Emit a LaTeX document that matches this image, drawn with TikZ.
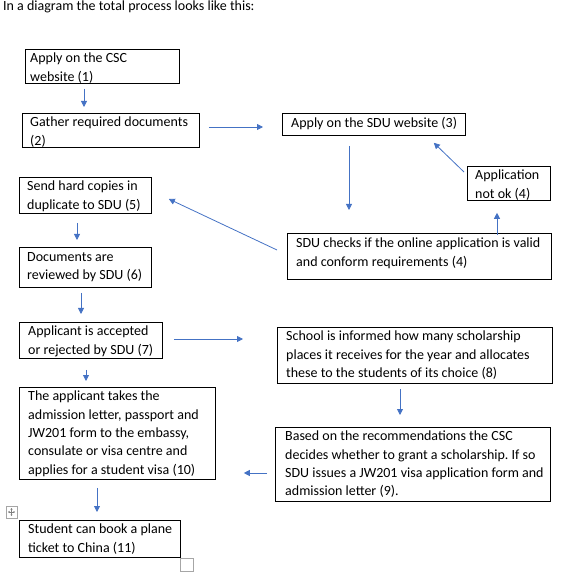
\documentclass[tikz,border=0pt]{standalone}
\usepackage{fontspec}
\setmainfont{Carlito}
\usetikzlibrary{arrows.meta, positioning, calc}
\frenchspacing

\definecolor{wordblue}{HTML}{4472C4}
\definecolor{handlegray}{HTML}{A6A6A6}

\tikzset{
  frame/.style={draw, line width=0.8pt, rectangle, anchor=north west, inner sep=0pt},
  words/.style={anchor=north west, align=left, inner sep=0pt, font=\fontsize{14}{18.3}\selectfont},
  flow/.style={draw=wordblue, line width=0.8pt, -{Triangle[length=6pt,width=6pt]}},
}

\begin{document}
\begin{tikzpicture}[x=1pt, y=-1pt]
      \useasboundingbox (0,0) rectangle (576,572);
      \node[words] (title) at (3,1) {In a diagram the total process looks like this:};
      % left column
      \node[frame, minimum width=154pt, minimum height=34pt] (csc) at (25,49) {};
      \node[words] (csc-t) at ($(csc.north west)+(5,4)$) {Apply on the CSC\\website (1)};
      \node[frame, minimum width=177pt, minimum height=34pt] (gather) at (22,113) {};
      \node[words] (gather-t) at ($(gather.north west)+(8,4)$) {Gather required documents\\(2)};
      \node[frame, minimum width=132pt, minimum height=36pt] (hardcopy) at (19,177) {};
      \node[words] (hardcopy-t) at ($(hardcopy.north west)+(8,4)$) {Send hard copies in\\duplicate to SDU (5)};
      \node[frame, minimum width=132pt, minimum height=40pt] (review) at (19,247) {};
      \node[words] (review-t) at ($(review.north west)+(8,5)$) {Documents are\\reviewed by SDU (6)};
      \node[frame, minimum width=143pt, minimum height=36pt] (accept) at (19,322) {};
      \node[words] (accept-t) at ($(accept.north west)+(9,4)$) {Applicant is accepted\\or rejected by SDU (7)};
      \node[frame, minimum width=196pt, minimum height=92pt] (visa) at (19,387) {};
      \node[words] (visa-t) at ($(visa.north west)+(9,4)$) {The applicant takes the\\admission letter, passport and\\JW201 form to the embassy,\\consulate or visa centre and\\applies for a student visa (10)};
      \node[frame, minimum width=161pt, minimum height=37pt] (ticket) at (19,520) {};
      \node[words] (ticket-t) at ($(ticket.north west)+(9,4)$) {Student can book a plane\\ticket to China (11)};
      % right column
      \node[frame, minimum width=183pt, minimum height=22pt] (sdu) at (282,113) {};
      \node[words] (sdu-t) at ($(sdu.north west)+(9,4)$) {Apply on the SDU website (3)};
      \node[frame, minimum width=83pt, minimum height=34pt] (notok) at (467,166) {};
      \node[words] (notok-t) at ($(notok.north west)+(8,4)$) {Application\\not ok (4)};
      \node[frame, minimum width=264pt, minimum height=46pt] (check) at (287,233) {};
      \node[words] (check-t) at ($(check.north west)+(9,5)$) {SDU checks if the online application is valid\\and conform requirements (4)};
      \node[frame, minimum width=275pt, minimum height=56pt] (school) at (277,327) {};
      \node[words] (school-t) at ($(school.north west)+(9,4)$) {School is informed how many scholarship\\places it receives for the year and allocates\\these to the students of its choice (8)};
      \node[frame, minimum width=275pt, minimum height=74pt] (grant) at (275,427) {};
      \node[words] (grant-t) at ($(grant.north west)+(10,4)$) {Based on the recommendations the CSC\\decides whether to grant a scholarship. If so\\SDU issues a JW201 visa application form and\\admission letter (9).};
      % arrows
      \draw[flow] ($(csc.south west)+(59,5)$) -- ($(gather.north west)+(62,-6)$);
      \draw[flow] ($(gather.north east)+(9,14)$) -- ($(sdu.north west)+(-19,14)$);
      \draw[flow] ($(sdu.south west)+(67,10)$) -- ($(check.north west)+(62,-23)$);
      \draw[flow] ($(check.north west)+(210,2)$) -- ($(notok.south west)+(30,12)$);
      \draw[flow] ($(notok.north west)+(-3,6)$) -- ($(sdu.south east)+(-32,7)$);
      \draw[flow] ($(check.north west)+(-10,17)$) -- ($(hardcopy.north east)+(17,22)$);
      \draw[flow] ($(hardcopy.south west)+(58,9)$) -- ($(review.north west)+(58,-7)$);
      \draw[flow] ($(review.south west)+(62,5)$) -- ($(accept.north west)+(62,-8)$);
      \draw[flow] ($(accept.north east)+(11,17)$) -- ($(school.north west)+(-34,12)$);
      \draw[flow] ($(school.south west)+(123,5)$) -- ($(grant.north west)+(125,-12)$);
      \draw[flow] ($(grant.north west)+(-8,46)$) -- ($(visa.north east)+(28,86)$);
      \draw[flow] ($(accept.south west)+(67,11)$) -- ($(visa.north west)+(67,-6)$);
      \draw[flow] ($(visa.south west)+(78,8)$) -- ($(ticket.north west)+(78,-8)$);
      % table handles
      \draw[handlegray, fill=white, line width=0.6pt] (6,506) rectangle (17,518);
      \draw[gray, line width=0.4pt, {Triangle[length=1.5pt,width=2pt]}-{Triangle[length=1.5pt,width=2pt]}] (8,512) -- (15,512);
      \draw[gray, line width=0.4pt, {Triangle[length=1.5pt,width=2pt]}-{Triangle[length=1.5pt,width=2pt]}] (11.5,508) -- (11.5,516);
      \draw[handlegray, fill=white, line width=0.6pt] (180.5,558.5) rectangle (193.5,571.5);
\end{tikzpicture}
\end{document}
